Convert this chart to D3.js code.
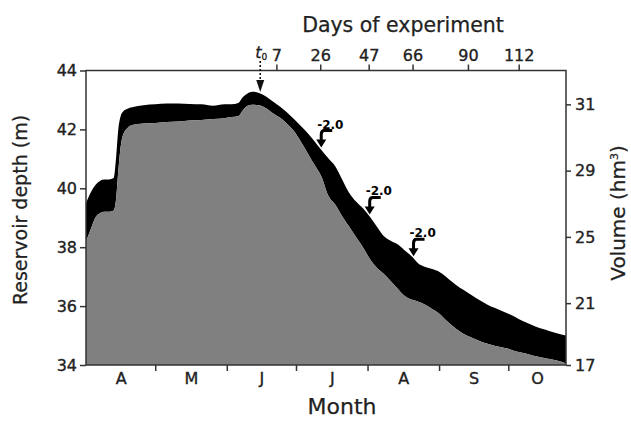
<!DOCTYPE html>
<html><head><meta charset="utf-8">
<script src="https://cdn.jsdelivr.net/npm/d3@7"></script>
<style>
html,body{margin:0;padding:0;background:#fff;}
svg{display:block;font-family:"DejaVu Sans",Verdana,sans-serif;}
</style></head>
<body>
<svg id="chart" width="631" height="421"></svg>
<script>
// ---- data (day = days since 1 April) ----
const days = [0,2,4,6,8,10,12,13,14,15,16,18,20,25,30,35,40,45,50,55,60,63,66,68,70,72,75,78,81,84,87,90,93,96,99,102,105,108,111,114,117,120,123,126,129,132,135,138,141,144,147,150,153,156,159,162,165,168,171,174,177,180,183,186,189,192,195,198,201,204,208];
const upperDepth = [39.5,39.85,40.1,40.25,40.3,40.3,40.35,41.0,42.0,42.45,42.6,42.7,42.75,42.82,42.85,42.88,42.88,42.86,42.85,42.8,42.85,42.85,42.9,43.1,43.22,43.28,43.24,43.12,42.95,42.78,42.58,42.36,42.12,41.88,41.6,41.3,41.02,40.75,40.3,39.85,39.55,39.32,39.03,38.7,38.38,38.22,38.1,37.9,37.7,37.45,37.33,37.26,37.17,37.0,36.8,36.62,36.48,36.33,36.18,36.05,35.94,35.84,35.74,35.63,35.5,35.4,35.3,35.22,35.15,35.08,35.0];
const lowerDepth = [38.2,38.6,39.0,39.15,39.2,39.2,39.25,39.6,40.6,41.4,41.8,42.05,42.15,42.2,42.22,42.25,42.27,42.3,42.32,42.35,42.38,42.42,42.45,42.65,42.8,42.84,42.82,42.72,42.55,42.4,42.2,41.95,41.6,41.2,40.8,40.4,39.75,39.45,39.05,38.7,38.35,38.0,37.6,37.3,37.1,36.85,36.6,36.35,36.22,36.15,36.05,35.9,35.75,35.52,35.32,35.14,35.0,34.9,34.8,34.72,34.65,34.6,34.55,34.47,34.42,34.36,34.3,34.25,34.2,34.15,34.05];

const depthTicks = [34,36,38,40,42,44];
const volTickLabels = [17,21,25,29,31];
const volTickDepths = [34,36.1,38.35,40.6,42.85];
const monthBoundaries = [30,61,91,122,153,183];
const monthLabels = ["A","M","J","J","A","S","O"];
const monthMidDays = [15,45.5,76,106.5,137.5,168,195.5];
const t0Day = 75.5;
const expDays = [7,26,47,66,90,112];
const cutDays = [26,47,66];
const cutLabels = ["-2.0","-2.0","-2.0"];

// ---- scales ----
const svg = d3.select("#chart");
const x = d3.scaleLinear().domain([0,208]).range([86,566]);
const y = d3.scaleLinear().domain([34,44]).range([365,70.5]);
const data = days.map((d,i)=>({d, up:upperDepth[i], lo:lowerDepth[i]}));
const upAt = d3.scaleLinear().domain(days).range(upperDepth);

// areas
svg.append("path").datum(data)
  .attr("fill","#000")
  .attr("d", d3.area().x(p=>x(p.d)).y0(p=>y(p.lo)).y1(p=>y(p.up)).curve(d3.curveMonotoneX));
svg.append("path").datum(data)
  .attr("fill","#808080")
  .attr("d", d3.area().x(p=>x(p.d)).y0(y(34)).y1(p=>y(p.lo)).curve(d3.curveMonotoneX));

// frame
svg.append("rect").attr("x",86).attr("y",70.5).attr("width",480).attr("height",294.5)
  .attr("fill","none").attr("stroke","#333").attr("stroke-width",1.5);

const tickColor="#333", textColor="#222";
function styleAxis(g, fs){
  g.select(".domain").remove();
  g.selectAll(".tick line").attr("stroke",tickColor).attr("stroke-width",1.5);
  g.selectAll(".tick text").attr("fill",textColor).attr("stroke",textColor).attr("stroke-width",0.35)
    .style("font-size",fs+"px").style("font-family","DejaVu Sans");
}
// left
svg.append("g").attr("transform","translate(86,0)")
  .call(d3.axisLeft(y).tickValues(depthTicks).tickSize(6).tickPadding(3).tickFormat(d3.format("d")))
  .call(g=>styleAxis(g,16));
// right
svg.append("g").attr("transform","translate(566,0)")
  .call(d3.axisRight(y).tickValues(volTickDepths).tickSize(5).tickPadding(4).tickFormat((d,i)=>volTickLabels[i]))
  .call(g=>styleAxis(g,16));
// bottom ticks (month boundaries)
svg.append("g").attr("transform","translate(0,365)")
  .call(d3.axisBottom(x).tickValues(monthBoundaries).tickSize(6).tickFormat(""))
  .call(g=>styleAxis(g,16));
// month labels
svg.append("g").attr("transform","translate(0,365)")
  .call(d3.axisBottom(x).tickValues(monthMidDays).tickSize(0).tickPadding(8).tickFormat((d,i)=>monthLabels[i]))
  .call(g=>styleAxis(g,16));
// top axis: days of experiment
svg.append("g").attr("transform","translate(0,70.5)")
  .call(d3.axisTop(x).tickValues(expDays.map(d=>t0Day+d)).tickSize(6).tickPadding(4).tickFormat((d,i)=>expDays[i]))
  .call(g=>styleAxis(g,16));

// axis titles
function title(sel){ return sel.attr("fill",textColor).attr("stroke",textColor).attr("stroke-width",0.25); }
title(svg.append("text").attr("x",403).attr("y",32).attr("text-anchor","middle")
  .style("font-size","20.5px").text("Days of experiment"));
title(svg.append("text").attr("x",342).attr("y",414).attr("text-anchor","middle")
  .style("font-size","22px").text("Month"));
title(svg.append("text").attr("transform","translate(27,210) rotate(-90)").attr("text-anchor","middle")
  .style("font-size","19px").text("Reservoir depth (m)"));
const vt = title(svg.append("text").attr("transform","translate(625,213) rotate(-90)").attr("text-anchor","middle")
  .style("font-size","20px"));
vt.append("tspan").text("Volume (hm");
vt.append("tspan").attr("dy",-7).style("font-size","11px").text("3");
vt.append("tspan").attr("dy",7).text(")");

// t0 marker
const tx = x(t0Day);
svg.append("line").attr("x1",tx).attr("x2",tx).attr("y1",61).attr("y2",81)
  .attr("stroke","#111").attr("stroke-width",1.6).attr("stroke-dasharray","2,2");
svg.append("path").attr("d",`M${tx-4},80L${tx+4},80L${tx},92Z`).attr("fill","#111");
const t0 = svg.append("text").attr("x",tx-5).attr("y",58).attr("fill",textColor).attr("stroke",textColor).attr("stroke-width",0.3).style("font-size","16px");
t0.append("tspan").style("font-style","italic").text("t");
t0.append("tspan").attr("dy",2).style("font-size","9px").text("0");

// cut annotations
cutDays.forEach((cd,i)=>{
  const ax = x(t0Day+cd), ay = y(upAt(t0Day+cd)) - 1;
  const g = svg.append("g");
  g.append("path").attr("d",`M${ax+12},${ay-17}L${ax+4},${ay-17}Q${ax+1},${ay-17} ${ax+1},${ay-13}L${ax+1},${ay-7}`)
    .attr("fill","none").attr("stroke","#000").attr("stroke-width",3);
  g.append("path").attr("d",`M${ax-4},${ay-8}L${ax+6},${ay-8}L${ax+1},${ay}Z`).attr("fill","#000");
  g.append("text").attr("x",ax-3).attr("y",ay-19).attr("fill","#000")
    .style("font-size","12px").style("font-weight","bold").text(cutLabels[i]);
});
</script>
</body></html>
